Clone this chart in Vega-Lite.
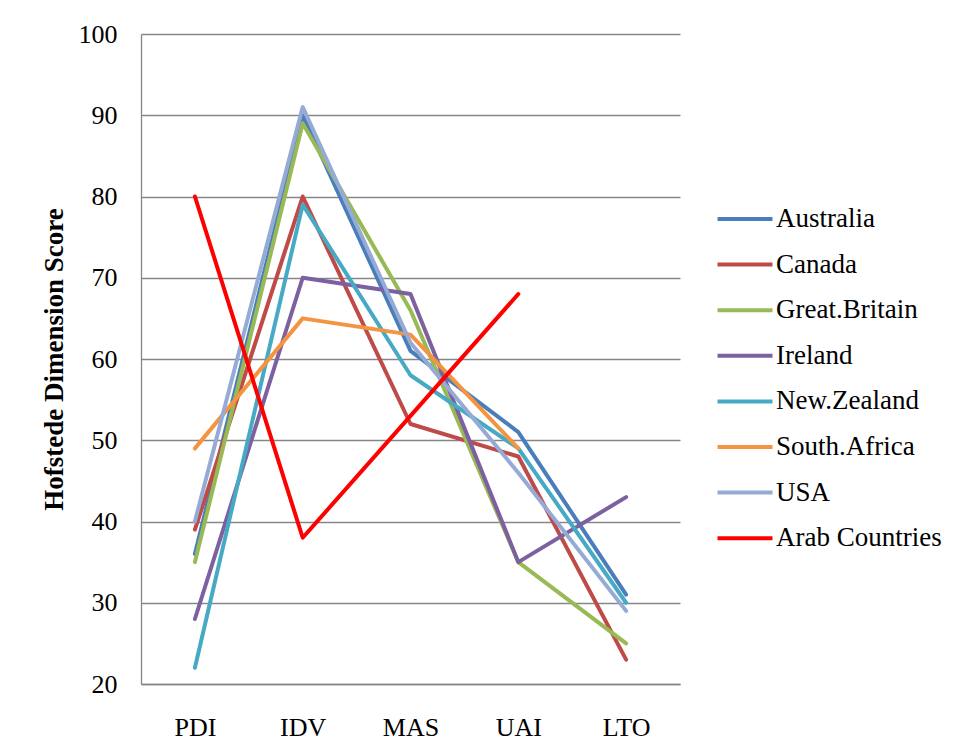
{
  "$schema": "https://vega.github.io/schema/vega-lite/v6.json",
  "width": 539,
  "height": 650,
  "autosize": {"type": "none"},
  "padding": {"left": 141, "top": 34, "right": 278, "bottom": 60},
  "background": "white",
  "config": {
    "view": {"stroke": null},
    "font": "Liberation Serif"
  },
  "data": {
    "values": [
      {"country": "Australia", "dimension": "PDI", "score": 36},
      {"country": "Australia", "dimension": "IDV", "score": 90},
      {"country": "Australia", "dimension": "MAS", "score": 61},
      {"country": "Australia", "dimension": "UAI", "score": 51},
      {"country": "Australia", "dimension": "LTO", "score": 31},
      {"country": "Canada", "dimension": "PDI", "score": 39},
      {"country": "Canada", "dimension": "IDV", "score": 80},
      {"country": "Canada", "dimension": "MAS", "score": 52},
      {"country": "Canada", "dimension": "UAI", "score": 48},
      {"country": "Canada", "dimension": "LTO", "score": 23},
      {"country": "Great.Britain", "dimension": "PDI", "score": 35},
      {"country": "Great.Britain", "dimension": "IDV", "score": 89},
      {"country": "Great.Britain", "dimension": "MAS", "score": 66},
      {"country": "Great.Britain", "dimension": "UAI", "score": 35},
      {"country": "Great.Britain", "dimension": "LTO", "score": 25},
      {"country": "Ireland", "dimension": "PDI", "score": 28},
      {"country": "Ireland", "dimension": "IDV", "score": 70},
      {"country": "Ireland", "dimension": "MAS", "score": 68},
      {"country": "Ireland", "dimension": "UAI", "score": 35},
      {"country": "Ireland", "dimension": "LTO", "score": 43},
      {"country": "New.Zealand", "dimension": "PDI", "score": 22},
      {"country": "New.Zealand", "dimension": "IDV", "score": 79},
      {"country": "New.Zealand", "dimension": "MAS", "score": 58},
      {"country": "New.Zealand", "dimension": "UAI", "score": 49},
      {"country": "New.Zealand", "dimension": "LTO", "score": 30},
      {"country": "South.Africa", "dimension": "PDI", "score": 49},
      {"country": "South.Africa", "dimension": "IDV", "score": 65},
      {"country": "South.Africa", "dimension": "MAS", "score": 63},
      {"country": "South.Africa", "dimension": "UAI", "score": 49},
      {"country": "USA", "dimension": "PDI", "score": 40},
      {"country": "USA", "dimension": "IDV", "score": 91},
      {"country": "USA", "dimension": "MAS", "score": 62},
      {"country": "USA", "dimension": "UAI", "score": 46},
      {"country": "USA", "dimension": "LTO", "score": 29},
      {"country": "Arab Countries", "dimension": "PDI", "score": 80},
      {"country": "Arab Countries", "dimension": "IDV", "score": 38},
      {"country": "Arab Countries", "dimension": "MAS", "score": 53},
      {"country": "Arab Countries", "dimension": "UAI", "score": 68}
    ]
  },
  "mark": {"type": "line", "strokeWidth": 4, "strokeCap": "round", "strokeJoin": "round"},
  "encoding": {
    "x": {
      "field": "dimension",
      "type": "nominal",
      "sort": ["PDI", "IDV", "MAS", "UAI", "LTO"],
      "scale": {"type": "point", "padding": 0.5},
      "axis": {
        "title": null,
        "labelAngle": 0,
        "labelFont": "Liberation Serif",
        "labelFontSize": 26,
        "labelColor": "black",
        "labelPadding": 30,
        "ticks": false,
        "grid": false,
        "domainColor": "#868686",
        "domainWidth": 1.3
      }
    },
    "y": {
      "field": "score",
      "type": "quantitative",
      "scale": {"domain": [20, 100], "nice": false, "zero": false},
      "axis": {
        "values": [20, 30, 40, 50, 60, 70, 80, 90, 100],
        "title": "Hofstede Dimension Score",
        "titleFont": "Liberation Serif",
        "titleFontSize": 27,
        "titleFontWeight": "bold",
        "titleColor": "black",
        "titlePadding": 10,
        "labelFont": "Liberation Serif",
        "labelFontSize": 26,
        "labelColor": "black",
        "labelPadding": 24,
        "ticks": false,
        "grid": true,
        "gridColor": "#868686",
        "gridWidth": 1.3,
        "domainColor": "#868686",
        "domainWidth": 1.3
      }
    },
    "color": {
      "field": "country",
      "type": "nominal",
      "sort": ["Australia", "Canada", "Great.Britain", "Ireland", "New.Zealand", "South.Africa", "USA", "Arab Countries"],
      "scale": {
        "domain": ["Australia", "Canada", "Great.Britain", "Ireland", "New.Zealand", "South.Africa", "USA", "Arab Countries"],
        "range": ["#4A7EBB", "#BE4B48", "#98B954", "#7D60A0", "#46AAC5", "#F59440", "#95ABD6", "#FF0000"]
      },
      "legend": {
        "title": null,
        "orient": "none",
        "legendX": 588,
        "legendY": 169,
        "padding": 0,
        "symbolType": "M-2,0H2",
        "symbolSize": 756,
        "symbolStrokeWidth": 4,
        "labelFont": "Liberation Serif",
        "labelFontSize": 27,
        "labelColor": "black",
        "labelOffset": 15,
        "rowPadding": 16.6,
        "labelLimit": 400
      }
    }
  }
}
